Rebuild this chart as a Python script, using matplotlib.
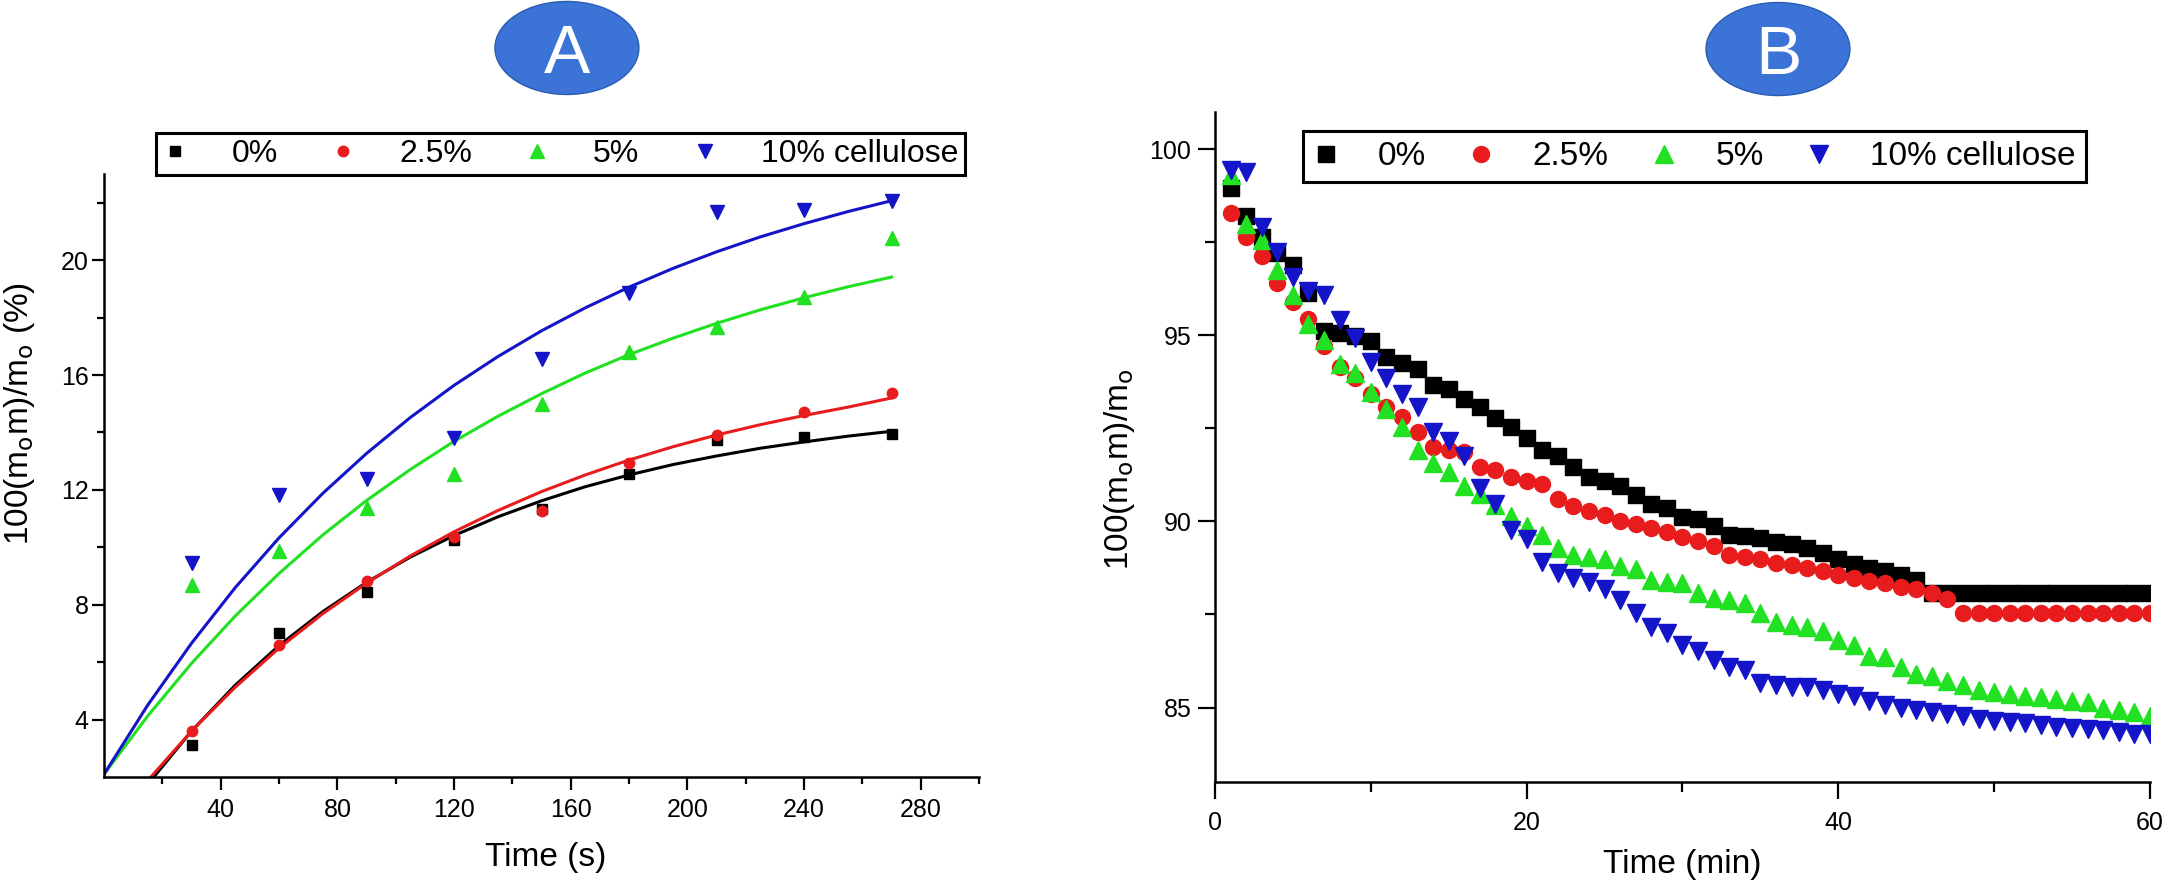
import matplotlib
matplotlib.use("Agg")
import matplotlib.pyplot as plt
from matplotlib.patches import Ellipse
from matplotlib.ticker import FixedLocator

plt.rcParams['font.family'] = ['Liberation Sans', 'DejaVu Sans']
plt.rcParams['mathtext.fontset'] = 'dejavusans'

# ---------------- data ----------------
legend_labels = ["0%", "2.5%", "5%", "10% cellulose"]

# Panel A : measured points
time_s = [30, 60, 90, 120, 150, 180, 210, 240, 270]
a_black = [3.13, 7.01, 8.46, 10.26, 11.35, 12.56, 13.74, 13.85, 13.96]
a_red = [3.59, 6.61, 8.81, 10.35, 11.25, 12.95, 13.91, 14.70, 15.36]
a_green = [8.70, 9.86, 11.36, 12.56, 15.00, 16.80, 17.67, 18.70, 20.78]
a_blue = [9.45, 11.83, 12.38, 13.80, 16.57, 18.84, 21.66, 21.75, 22.07]

# Panel A : fitted curves
fit_t_full = [0, 15, 30, 45, 60, 75, 90, 105, 120, 135, 150, 165, 180, 195,
              210, 225, 240, 255, 270]
fit_t_late = [15, 30, 45, 60, 75, 90, 105, 120, 135, 150, 165, 180, 195,
              210, 225, 240, 255, 270]
fit_blue = [2.10, 4.51, 6.66, 8.60, 10.33, 11.88, 13.27, 14.52, 15.64, 16.64,
            17.54, 18.34, 19.06, 19.71, 20.29, 20.81, 21.27, 21.69, 22.07]
fit_green = [2.10, 4.13, 5.96, 7.61, 9.09, 10.43, 11.63, 12.71, 13.69, 14.56,
             15.35, 16.07, 16.71, 17.28, 17.80, 18.27, 18.69, 19.07, 19.41]
fit_red = [1.88, 3.60, 5.13, 6.49, 7.69, 8.75, 9.70, 10.54, 11.28, 11.94,
           12.52, 13.04, 13.50, 13.91, 14.27, 14.59, 14.88, 15.20]
fit_black = [1.75, 3.60, 5.20, 6.58, 7.76, 8.78, 9.66, 10.41, 11.06, 11.62,
             12.11, 12.52, 12.88, 13.18, 13.45, 13.67, 13.87, 14.04]

# Panel B
time_min = list(range(1, 61))
b_black = [98.95, 98.20, 97.65, 97.20, 96.90, 96.15, 95.12, 95.05, 94.98, 94.85,
           94.42, 94.25, 94.10, 93.67, 93.55, 93.30, 93.07, 92.78, 92.53, 92.25,
           91.93, 91.75, 91.45, 91.20, 91.08, 90.96, 90.72, 90.48, 90.36, 90.12,
           90.06, 89.88, 89.64, 89.60, 89.55, 89.46, 89.40, 89.28, 89.16, 88.98,
           88.86, 88.76, 88.67, 88.55, 88.43, 88.08, 88.08, 88.08, 88.08, 88.08,
           88.08, 88.08, 88.08, 88.08, 88.08, 88.08, 88.08, 88.08, 88.08, 88.08]
b_red = [98.30, 97.65, 97.14, 96.42, 95.90, 95.45, 94.72, 94.16, 93.86, 93.43,
         93.07, 92.81, 92.41, 91.99, 91.93, 91.87, 91.45, 91.39, 91.20, 91.10,
         91.00, 90.60, 90.42, 90.28, 90.18, 90.00, 89.94, 89.82, 89.72, 89.58,
         89.48, 89.34, 89.10, 89.04, 88.98, 88.88, 88.83, 88.76, 88.67, 88.55,
         88.47, 88.40, 88.35, 88.25, 88.19, 88.07, 87.92, 87.53, 87.53, 87.53,
         87.53, 87.53, 87.53, 87.53, 87.53, 87.53, 87.53, 87.53, 87.53, 87.53]
b_green = [99.30, 98.00, 97.55, 96.75, 96.08, 95.30, 94.88, 94.22, 93.98, 93.49,
           93.01, 92.53, 91.93, 91.57, 91.33, 90.96, 90.75, 90.45, 90.15, 89.88,
           89.64, 89.28, 89.10, 89.04, 88.98, 88.80, 88.73, 88.43, 88.37, 88.35,
           88.07, 87.95, 87.89, 87.80, 87.53, 87.31, 87.23, 87.17, 87.05, 86.81,
           86.69, 86.39, 86.35, 86.10, 85.90, 85.84, 85.72, 85.60, 85.48, 85.42,
           85.36, 85.30, 85.27, 85.24, 85.18, 85.14, 85.00, 84.94, 84.88, 84.76]
b_blue = [99.45, 99.38, 97.90, 97.23, 96.57, 96.20, 96.08, 95.42, 94.94, 94.28,
          93.86, 93.43, 93.07, 92.41, 92.17, 91.75, 90.90, 90.48, 89.76, 89.52,
          88.92, 88.61, 88.49, 88.37, 88.19, 87.89, 87.53, 87.17, 86.99, 86.69,
          86.51, 86.27, 86.08, 86.02, 85.66, 85.60, 85.54, 85.54, 85.48, 85.36,
          85.30, 85.18, 85.06, 85.00, 84.94, 84.88, 84.82, 84.76, 84.70, 84.64,
          84.60, 84.58, 84.52, 84.48, 84.46, 84.43, 84.40, 84.34, 84.30, 84.28]

a_xticks = [40, 80, 120, 160, 200, 240, 280]
a_xminor = [20, 60, 100, 140, 180, 220, 260, 300]
a_yticks = [4, 8, 12, 16, 20]
a_yminor = [6, 10, 14, 18, 22]
b_xticks = [0, 20, 40, 60]
b_xminor = [10, 30, 50]
b_yticks = [85, 90, 95, 100]
b_yminor = [87.5, 92.5, 97.5]

# ---------------- style ----------------
C_BLACK = "#000000"
C_RED = "#e81c1c"
C_GREEN = "#22e022"
C_BLUE = "#1414c8"
C_LBL = "#3b73d6"

YLAB = r"100(m$_\mathrm{o}$m)/m$_\mathrm{o}$"

fig = plt.figure(figsize=(21.68, 8.85), dpi=100)

def style_axes(ax):
    for s in ("top", "right"):
        ax.spines[s].set_visible(False)
    for s in ("left", "bottom"):
        ax.spines[s].set_linewidth(1.8)

# ---------------- Panel A ----------------
axA = fig.add_axes([0.048, 0.122, 0.4036, 0.6814])
style_axes(axA)
axA.plot(fit_t_late, fit_black, color=C_BLACK, lw=2.2, zorder=2)
axA.plot(fit_t_late, fit_red, color=C_RED, lw=2.2, zorder=2.1)
axA.plot(fit_t_full, fit_green, color=C_GREEN, lw=2.2, zorder=2)
axA.plot(fit_t_full, fit_blue, color=C_BLUE, lw=2.2, zorder=2)
hA = []
hA += axA.plot(time_s, a_black, ls="none", marker="s", ms=7, color=C_BLACK, zorder=3)
hA += axA.plot(time_s, a_red, ls="none", marker="o", ms=7.5, color=C_RED, zorder=3)
hA += axA.plot(time_s, a_green, ls="none", marker="^", ms=9.5, color=C_GREEN, zorder=3)
hA += axA.plot(time_s, a_blue, ls="none", marker="v", ms=9.5, color=C_BLUE, zorder=3)
axA.set_xlim(0, 300)
axA.set_ylim(2, 23)
axA.xaxis.set_major_locator(FixedLocator(a_xticks))
axA.xaxis.set_minor_locator(FixedLocator(a_xminor))
axA.yaxis.set_major_locator(FixedLocator(a_yticks))
axA.yaxis.set_minor_locator(FixedLocator(a_yminor))
axA.tick_params(which="major", direction="out", length=9, width=1.6, labelsize=18)
axA.tick_params(which="minor", direction="out", length=5, width=1.6)
axA.tick_params(axis="x", which="major", pad=6)
axA.tick_params(axis="y", which="major", pad=2)

legA = axA.legend(hA, legend_labels, ncol=4, loc="center",
                  bbox_to_anchor=(0.2585, 0.826), bbox_transform=fig.transFigure,
                  frameon=True, fancybox=False, edgecolor="black", framealpha=1,
                  fontsize=23, handlelength=0.8, handletextpad=1.35,
                  columnspacing=1.65, borderpad=0.2, borderaxespad=0)
legA.get_frame().set_linewidth(2.2)

fig.text(0.2518, 0.031, "Time (s)", fontsize=24, ha="center", va="center")
fig.text(0.0092, 0.533, YLAB + " (%)", fontsize=24,
         rotation=90, ha="center", va="center")

# ---------------- Panel B ----------------
axB = fig.add_axes([0.5604, 0.1164, 0.4313, 0.757])
style_axes(axB)
hB = []
hB += axB.plot(time_min, b_black, ls="none", marker="s", ms=11, color=C_BLACK, zorder=3)
hB += axB.plot(time_min, b_red, ls="none", marker="o", ms=11.5, color=C_RED, zorder=3)
hB += axB.plot(time_min, b_green, ls="none", marker="^", ms=12.5, color=C_GREEN, zorder=3)
hB += axB.plot(time_min, b_blue, ls="none", marker="v", ms=12.5, color=C_BLUE, zorder=3)
axB.set_xlim(0, 60)
axB.set_ylim(83, 101)
axB.xaxis.set_major_locator(FixedLocator(b_xticks))
axB.xaxis.set_minor_locator(FixedLocator(b_xminor))
axB.yaxis.set_major_locator(FixedLocator(b_yticks))
axB.yaxis.set_minor_locator(FixedLocator(b_yminor))
axB.tick_params(which="major", direction="out", length=12, width=1.6, labelsize=18)
axB.tick_params(which="minor", direction="out", length=7, width=1.6)
axB.tick_params(axis="x", which="major", pad=9)
axB.tick_params(axis="y", which="major", pad=5)

legB = axB.legend(hB, legend_labels, ncol=4, loc="center",
                  bbox_to_anchor=(0.7815, 0.8226), bbox_transform=fig.transFigure,
                  frameon=True, fancybox=False, edgecolor="black", framealpha=1,
                  fontsize=24, handlelength=0.8, handletextpad=1.15,
                  columnspacing=1.25, borderpad=0.3, borderaxespad=0)
legB.get_frame().set_linewidth(2.2)

fig.text(0.7758, 0.023, "Time (min)", fontsize=24, ha="center", va="center")
fig.text(0.5166, 0.47, YLAB, fontsize=24,
         rotation=90, ha="center", va="center")

# ---------------- panel badges ----------------
for cx, cy, letter in ((0.2615, 0.9458, "A"), (0.8201, 0.9446, "B")):
    fig.add_artist(Ellipse((cx, cy), 0.0664, 0.1051, transform=fig.transFigure,
                           facecolor=C_LBL, edgecolor="#2a5cb0", lw=1.0))
    fig.text(cx, cy, letter, color="white", fontsize=50, ha="center",
             va="center_baseline")

fig.savefig("out.png", dpi=100)
